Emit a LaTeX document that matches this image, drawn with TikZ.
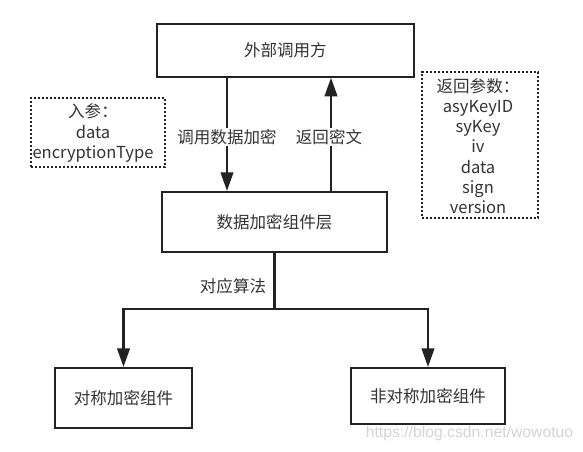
\documentclass[tikz,border=0pt]{standalone}
\usepackage{fontspec}
\setmainfont{Noto Sans CJK SC}
\newfontfamily\wmfont{Liberation Sans}
\usetikzlibrary{arrows.meta}

\definecolor{linegray}{HTML}{222222}
\definecolor{txtgray}{HTML}{333333}
\definecolor{wmgray}{HTML}{D4D4D4}

\tikzset{
  solidbox/.style={draw=linegray, line width=1.6pt, inner sep=0pt, fill=white},
  dotbox/.style={draw=linegray, line width=1.8pt, dash pattern=on 1.7pt off 1.3pt, inner sep=0pt},
  lbl/.style={text=txtgray, inner sep=0.75pt, font=\fontsize{12.4}{15.2}\selectfont, align=center},
  wire/.style={draw=linegray, line width=1.6pt},
  arr/.style={wire, -{Triangle[length=14pt,width=9.5pt]}},
}

\begin{document}
\begin{tikzpicture}[x=0.75pt,y=0.75pt,yscale=-1,xscale=1]
\useasboundingbox[fill=white] (0,0) rectangle (583,452);

%Shape: Rectangle [caller]
\node[solidbox, minimum width=192.75pt, minimum height=39.75pt] (caller) at (285.4,50.2) {};
%Shape: Rectangle [layer]
\node[solidbox, minimum width=168.75pt, minimum height=45pt] (layer) at (274.5,222) {};
%Shape: Rectangle [sym]
\node[solidbox, minimum width=103pt, minimum height=45pt] (sym) at (123.5,398) {};
%Shape: Rectangle [asym]
\node[solidbox, minimum width=115.5pt, minimum height=42pt] (asym) at (428,396) {};
%Shape: Rectangle [inbox]
\node[dotbox, minimum width=100.5pt, minimum height=51.75pt] (inbox) at (98,132.5) {};
%Shape: Rectangle [retbox]
\node[dotbox, minimum width=87pt, minimum height=109.5pt] (retbox) at (480,145) {};

\coordinate (callx) at (227,0);
\coordinate (retx) at (331,0);
\coordinate (split) at (274.5,309);

%Straight Lines
\draw[arr] (caller.south -| callx) -- (layer.north -| callx);
\draw[arr] (layer.north -| retx) -- (caller.south -| retx);
\draw[wire] (layer.south) -- (split);
\draw[arr] (split) -| (sym.north);
\draw[arr] (split) -| (asym.north);

% Text Node
\node[lbl] (callertxt) at (caller) {外部调用方};
% Text Node
\node[lbl] (layertxt) at (layer) {数据加密组件层};
% Text Node
\node[lbl] (symtxt) at (sym) {对称加密组件};
% Text Node
\node[lbl] (asymtxt) at (asym) {非对称加密组件};
% Text Node
\node[lbl, fill=white] (calllbl) at (227,137) {调用数据加密};
% Text Node
\node[lbl, fill=white] (retlbl) at (329,137) {返回密文};
% Text Node
\node[lbl] (algolbl) at (233,286) {对应算法};
% Text Node
\node[lbl] (intxt) at (93,133) {入参：\\data\\encryptionType};
% Text Node
\node[lbl] (rettxt) at (478,146) {返回参数：\\asyKeyID\\syKey\\iv\\data\\sign\\version};
% Text Node
\node[text=wmgray, inner sep=0pt, font=\wmfont\fontsize{11.8}{14}\selectfont] (mark) at (469.5,433) {https://blog.csdn.net/wowotuo};

\end{tikzpicture}
\end{document}
